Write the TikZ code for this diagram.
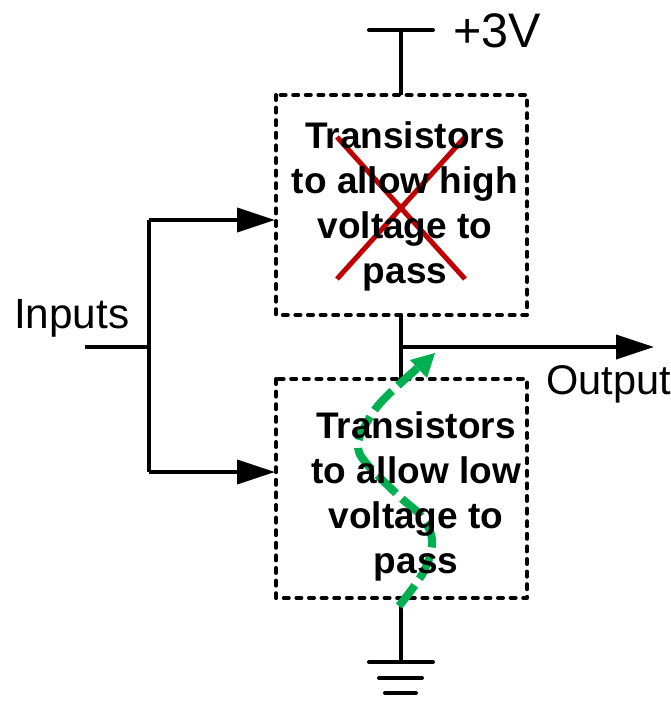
\documentclass[tikz,border=0pt]{standalone}
\usepackage{fontspec}
\setmainfont{Liberation Sans}
\usetikzlibrary{arrows.meta}
\definecolor{crossred}{RGB}{192,0,0}
\definecolor{pathgreen}{RGB}{0,176,80}
\tikzset{
  x=1pt,y=-1pt,
  wire/.style={draw=black,line width=3.6pt},
  tipwire/.style={wire,-{Triangle[length=38pt,width=24pt,inset=0pt]}},
  railbar/.style={draw=black,line width=4pt,line cap=round},
  dotbox/.style={draw=black,line width=4pt,dash pattern=on 5pt off 7.6pt,line cap=round,line join=round},
  blocktext/.style={font=\fontsize{37}{45}\selectfont\bfseries,align=center,inner sep=0pt},
  plain/.style={font=\fontsize{42.3}{48}\selectfont,inner sep=0pt,anchor=base west},
  crossline/.style={draw=crossred,line width=5pt},
  flowpath/.style={draw=pathgreen,line width=8pt,dash pattern=on 26pt off 8pt}
}
\begin{document}
\begin{tikzpicture}
\useasboundingbox (0,0) rectangle (671,702);
% anchors
\coordinate (vddL) at (369,30);
\coordinate (vddR) at (433,30);
\coordinate (vddM) at (401,30);
\coordinate (inL) at (85,347);
\coordinate (inJ) at (149,347);
\coordinate (inT) at (149,220);
\coordinate (inB) at (149,472);
\coordinate (outJ) at (401,347);
\coordinate (outE) at (654,347);
\coordinate (gndT) at (401,662);
\coordinate (hiIn) at (275,220);
\coordinate (loIn) at (275,472);
\coordinate (hiTop) at (401,95);
\coordinate (hiBot) at (401,315);
\coordinate (loTop) at (401,379);
\coordinate (loBot) at (401,598);
% boxes
\draw[dotbox] (276,95) rectangle (527,315);
\draw[dotbox] (276,379) rectangle (527,598);
% wires
\draw[wire] (hiTop) -- (vddM);
\draw[railbar] (vddL) -- (vddR);
\draw[wire] (hiBot) -- (loTop);
\draw[tipwire] (outJ) -- (outE);
\draw[wire] (inL) -- (inJ);
\draw[wire] (inT) -- (inB);
\draw[tipwire] (inT) -- (hiIn);
\draw[tipwire] (inB) -- (loIn);
\draw[wire] (loBot) -- (gndT);
\draw[railbar] (369,662) -- (433,662);
\draw[railbar] (379,678) -- (422,678);
\draw[railbar] (385,693) -- (416,693);
% cross
\draw[crossline] (337,137) -- (465,279);
\draw[crossline] (337,279) -- (465,137);
% current path
\draw[flowpath] plot[smooth,tension=0.6] coordinates {(399,606) (424,571) (432,540) (421,516) (400,497) (366,463) (358,445) (366,424) (383,400) (422,364)};
\fill[pathgreen] (435,353) -- (410,360) -- (427,378) -- cycle;
% labels
\node[blocktext] (hiText) at (405,206) {Transistors\\to allow high\\voltage to\\pass};
\node[blocktext] (loText) at (416,496) {Transistors\\to allow low\\voltage to\\pass};
\node[plain] (inputs) at (14,328) {Inputs};
\node[plain,font=\fontsize{41.5}{48}\selectfont] (output) at (546,394) {Output};
\node[plain,font=\fontsize{48.5}{52}\selectfont] (vdd) at (453,47) {+3V};
\end{tikzpicture}
\end{document}
